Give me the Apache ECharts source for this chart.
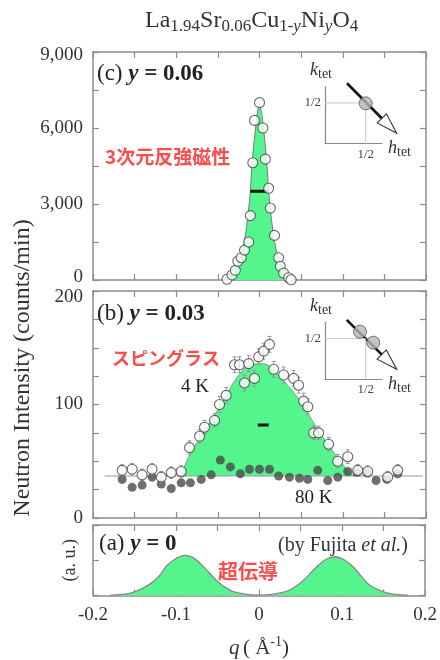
<!DOCTYPE html>
<html>
<head>
<meta charset="utf-8">
<script src="https://cdn.jsdelivr.net/npm/echarts@6.0.0/dist/echarts.min.js"></script>
<style>
  html, body { margin: 0; padding: 0; background: #fff; }
  #chart { width: 440px; height: 660px; }
</style>
</head>
<body>
<div id="chart"></div>
<script>
// panel (c) y = 0.06 : open circles and the green fit
var cQ      = [-0.039, -0.033, -0.029, -0.026, -0.022, -0.018, -0.013, -0.011, -0.008, -0.006, 0.000, 0.004, 0.007, 0.011, 0.013, 0.018, 0.023, 0.025, 0.029, 0.035, 0.038];
var cCounts = [30, 200, 380, 740, 880, 1180, 1500, 2540, 4630, 6300, 7000, 6000, 4770, 3620, 2840, 1760, 880, 540, 270, 90, 10];
var cFitQ   = [-0.045, -0.04, -0.035, -0.03, -0.025, -0.02, -0.017, -0.014, -0.011, -0.009, -0.006, -0.003, 0, 0.003, 0.006, 0.009, 0.011, 0.014, 0.017, 0.02, 0.025, 0.03, 0.035, 0.04, 0.045];
var cFitV   = [0, 120, 250, 420, 700, 1200, 1750, 2500, 3500, 4600, 5600, 6500, 6950, 6500, 5600, 4500, 3500, 2500, 1750, 1200, 700, 420, 230, 100, 0];
var cResQ   = [-0.011, 0.0105];
var cResV   = 3500;

// panel (b) y = 0.03 : 4 K (open), 80 K (filled)
var b4Q   = [-0.165, -0.153, -0.141, -0.129, -0.118, -0.106, -0.094, -0.084, -0.072, -0.066, -0.054, -0.048, -0.040, -0.030, -0.024, -0.018, -0.013, -0.006, -0.001, 0.005, 0.012, 0.017, 0.029, 0.041, 0.047, 0.053, 0.058, 0.065, 0.071, 0.083, 0.094, 0.106, 0.118, 0.130, 0.154, 0.166];
var b4V   = [42, 43, 38, 43, 36, 40, 41, 62, 72, 80, 86, 100, 108, 135, 135, 119, 136, 123, 142, 147, 153, 131, 126, 123, 117, 103, 98, 75, 75, 65, 50, 54, 42, 41, 36, 42];
var b4Err = [5, 5, 5, 5, 5, 5, 5, 6, 6, 6, 6, 7, 7, 7, 7, 7, 7, 7, 7, 7, 7, 7, 7, 7, 7, 7, 7, 6, 6, 6, 6, 6, 5, 5, 5, 5];
var b80Q  = [-0.165, -0.153, -0.141, -0.129, -0.118, -0.106, -0.094, -0.083, -0.070, -0.058, -0.047, -0.035, -0.023, -0.012, 0.000, 0.012, 0.023, 0.036, 0.048, 0.058, 0.070, 0.082, 0.094, 0.106, 0.117, 0.129, 0.140, 0.153, 0.166];
var b80V  = [34, 27, 29, 36, 30, 26, 31, 31, 34, 38, 51, 45, 39, 43, 43, 43, 37, 36, 35, 34, 42, 33, 36, 41, 40, 40, 33, 34, 39];
var bFitQ = [-0.095, -0.083, -0.063, -0.043, -0.027, -0.011, 0.005, 0.029, 0.05, 0.07, 0.09, 0.106, 0.113];
var bFitV = [37, 57, 80, 104, 124, 135, 136, 121, 102, 78, 57, 42, 37];
var bBase = 37;
var bBaseQ = [-0.186, 0.196];
var bResQ = [-0.002, 0.011];
var bResV = 82;

// panel (a) y = 0 (a. u.)
var aQ = [-0.18, -0.165, -0.15, -0.131, -0.12, -0.111, -0.1, -0.09, -0.08, -0.067, -0.051, -0.04, -0.031, -0.015, 0, 0.015, 0.031, 0.04, 0.052, 0.068, 0.08, 0.092, 0.102, 0.113, 0.123, 0.133, 0.15, 0.165, 0.18];
var aV = [0, 0.03, 0.1, 0.33, 0.56, 0.85, 1.05, 1.14, 1.08, 0.82, 0.42, 0.22, 0.11, 0.03, 0.01, 0.03, 0.1, 0.2, 0.4, 0.78, 1.02, 1.1, 1.02, 0.82, 0.55, 0.3, 0.1, 0.03, 0];

// reciprocal-space insets
var guide = [[0, 0.5], [0.5, 0.5], [0.5, 0]];
var arrowC = [[0.27, 0.742, 0.88, 0.128]];
var spotsC = [[0.5, 0.496]];
var arrowB = [[0.267, 0.73, 0.88, 0.123]];
var spotsB = [[0.43, 0.585], [0.593, 0.45]];

var serif = '"Liberation Serif", "DejaVu Serif", serif';
var cjk = '"Noto Sans CJK JP", sans-serif';
var green = '#55f58e';
var frame = '#8c8c8c';
var red = '#ff4b4b';

function pairs(xs, ys) {
    return xs.map(function (x, i) { return [x, Array.isArray(ys) ? ys[i] : ys]; });
}

var myChart = echarts.init(document.getElementById('chart'));

function qAxis(grid, pos, labels) {
    return {
        type: 'value', gridIndex: grid, position: pos, min: -0.2, max: 0.2, interval: 0.05,
        axisLine: { show: true, onZero: false, lineStyle: { color: frame, width: 1.5 } },
        axisTick: { show: true, inside: true, length: 6, lineStyle: { color: frame, width: 1.2 } },
        splitLine: { show: false },
        axisLabel: {
            show: labels, color: '#333', fontFamily: serif, fontSize: 19, margin: 10,
            showMinLabel: true, showMaxLabel: true, hideOverlap: false,
            formatter: function (v) {
                var k = Math.round(v * 100);
                if (k % 10 !== 0) return '';
                return k === 0 ? '0' : (k / 100).toFixed(1);
            }
        }
    };
}

// shiftMax / shiftMin nudge the end labels like in the figure
function valAxis(grid, pos, max, interval, labelEvery, fmt, shiftMax, shiftMin) {
    return {
        type: 'value', gridIndex: grid, position: pos, min: 0, max: max, interval: interval,
        axisLine: { show: true, onZero: false, lineStyle: { color: frame, width: 1.5 } },
        axisTick: { show: true, inside: true, length: 6, lineStyle: { color: frame, width: 1.2 } },
        splitLine: { show: false },
        axisLabel: {
            show: pos === 'left' && labelEvery > 0, color: '#333', fontFamily: serif, fontSize: 19, margin: 10,
            showMinLabel: true, showMaxLabel: true,
            rich: {
                mx: { fontFamily: serif, fontSize: 19, color: '#333', padding: [shiftMax || 0, 0, 0, 0] },
                mn: { fontFamily: serif, fontSize: 19, color: '#333', padding: [0, 0, shiftMin || 0, 0] }
            },
            formatter: function (v) {
                if (Math.round(v) % labelEvery !== 0) return '';
                var s = fmt ? fmt(v) : String(v);
                if (v === max) return '{mx|' + s + '}';
                if (v === 0) return '{mn|' + s + '}';
                return s;
            }
        }
    };
}

function insetAxis(grid, dim, name) {
    return {
        type: 'value', gridIndex: grid, min: 0, max: 0.7, interval: 0.5,
        position: dim === 'x' ? 'bottom' : 'left',
        name: name, nameLocation: 'end', nameGap: dim === 'x' ? 6 : 5,
        nameTextStyle: {
            fontFamily: serif, fontSize: 17, color: '#333',
            padding: dim === 'x' ? [10, 0, 0, 0] : [0, 8, 0, 0],
            rich: {
                i: { fontFamily: serif, fontSize: 18, fontStyle: 'italic', color: '#333' },
                s: { fontFamily: serif, fontSize: 14, color: '#333', padding: [8, 0, 0, 0] }
            }
        },
        axisLine: { show: true, onZero: false, lineStyle: { color: '#888', width: 1.2 } },
        axisTick: { show: false },
        splitLine: { show: false },
        axisLabel: {
            show: true, color: '#444', fontFamily: serif, fontSize: 13, margin: 4,
            formatter: function (v) { return v === 0.5 ? '1/2' : ''; }
        }
    };
}

function arrowItem(params, api) {
    var s = api.coord([api.value(0), api.value(1)]);
    var t = api.coord([api.value(2), api.value(3)]);
    var dx = t[0] - s[0], dy = t[1] - s[1];
    var len = Math.sqrt(dx * dx + dy * dy);
    var ux = dx / len, uy = dy / len;
    var hl = 21, hw = 6.5;
    var b = [t[0] - ux * hl, t[1] - uy * hl];
    return {
        type: 'group',
        children: [
            { type: 'line', shape: { x1: s[0], y1: s[1], x2: b[0] + ux * 3, y2: b[1] + uy * 3 }, style: { stroke: '#111', lineWidth: 2.6 } },
            { type: 'polygon', shape: { points: [t, [b[0] - uy * hw, b[1] + ux * hw], [b[0] + uy * hw, b[1] - ux * hw]] }, style: { fill: '#fff', stroke: '#333', lineWidth: 1.1 } }
        ]
    };
}

function errItem(params, api) {
    var x = api.value(0), y = api.value(1), e = api.value(2);
    var lo = api.coord([x, y - e]), hi = api.coord([x, y + e]);
    return {
        type: 'group',
        children: [
            { type: 'line', shape: { x1: lo[0], y1: lo[1], x2: hi[0], y2: hi[1] }, style: { stroke: '#9a9a9a', lineWidth: 1 } },
            { type: 'line', shape: { x1: hi[0] - 2, y1: hi[1], x2: hi[0] + 2, y2: hi[1] }, style: { stroke: '#9a9a9a', lineWidth: 1 } },
            { type: 'line', shape: { x1: lo[0] - 2, y1: lo[1], x2: lo[0] + 2, y2: lo[1] }, style: { stroke: '#9a9a9a', lineWidth: 1 } }
        ]
    };
}

function comma(v) { return v.toLocaleString('en-US'); }

var openDot = { color: '#fff', borderColor: '#444', borderWidth: 1.1 };

var option = {
    animation: false,
    backgroundColor: '#fff',
    title: {
        text: '{m|La}{s|1.94}{m|Sr}{s|0.06}{m|Cu}{s|1-}{si|y}{m|Ni}{si|y}{m|O}{s|4}',
        left: 140, top: 2,
        textStyle: {
            fontWeight: 'normal',
            rich: {
                m: { fontFamily: serif, fontSize: 24, fontWeight: 'normal', color: '#333', lineHeight: 28, verticalAlign: 'middle' },
                s: { fontFamily: serif, fontSize: 17, fontWeight: 'normal', color: '#333', lineHeight: 12, verticalAlign: 'bottom' },
                si: { fontFamily: serif, fontSize: 17, fontWeight: 'normal', fontStyle: 'italic', color: '#333', lineHeight: 12, verticalAlign: 'bottom' }
            }
        }
    },
    grid: [
        { left: 93, right: 14, top: 52, height: 228 },
        { left: 93, right: 14, top: 291, height: 227 },
        { left: 93, right: 14, top: 525, height: 76 },
        { left: 325, top: 86.7, width: 57, height: 57 },
        { left: 325, top: 322.3, width: 57, height: 57 }
    ],
    xAxis: [
        qAxis(0, 'bottom', false), qAxis(0, 'top', false),
        qAxis(1, 'bottom', false), qAxis(1, 'top', false),
        Object.assign(qAxis(2, 'bottom', true), {
            name: '{i|q} {n|( Å}{u|-1}{n|)}', nameLocation: 'middle', nameGap: 40,
            nameTextStyle: {
                rich: {
                    i: { fontFamily: serif, fontSize: 21, fontStyle: 'italic', color: '#333' },
                    n: { fontFamily: serif, fontSize: 21, color: '#333' },
                    u: { fontFamily: serif, fontSize: 14, color: '#333', padding: [0, 0, 12, 0] }
                }
            }
        }),
        qAxis(2, 'top', false),
        insetAxis(3, 'x', '{i|h}{s|tet}'),
        insetAxis(4, 'x', '{i|h}{s|tet}')
    ],
    yAxis: [
        valAxis(0, 'left', 9000, 1500, 3000, comma, 6, 6), valAxis(0, 'right', 9000, 1500, 0),
        valAxis(1, 'left', 200, 25, 100, null, 12, 0), valAxis(1, 'right', 200, 25, 0),
        Object.assign(valAxis(2, 'left', 2, 1, 0), {
            name: '(a. u.)', nameLocation: 'middle', nameGap: 14, nameRotate: 90,
            nameTextStyle: { fontFamily: serif, fontSize: 18, color: '#333' }
        }),
        valAxis(2, 'right', 2, 1, 0),
        insetAxis(3, 'y', '{i|k}{s|tet}'),
        insetAxis(4, 'y', '{i|k}{s|tet}')
    ],
    graphic: [
        { type: 'text', x: 23, y: 368, rotation: Math.PI / 2,
          style: { text: 'Neutron Intensity (counts/min)', font: '24px ' + serif, fill: '#333', align: 'center', verticalAlign: 'middle' } },
        { type: 'text', x: 97, y: 74,
          style: { text: '{n|(c) }{y|y}{b| = 0.06}', verticalAlign: 'middle', rich: {
              n: { fontFamily: serif, fontSize: 23, fill: '#222' },
              y: { fontFamily: serif, fontSize: 23, fontStyle: 'italic', fontWeight: 'bold', fill: '#222' },
              b: { fontFamily: serif, fontSize: 23, fontWeight: 'bold', fill: '#222' } } } },
        { type: 'text', x: 97, y: 314,
          style: { text: '{n|(b) }{y|y}{b| = 0.03}', verticalAlign: 'middle', rich: {
              n: { fontFamily: serif, fontSize: 23, fill: '#222' },
              y: { fontFamily: serif, fontSize: 23, fontStyle: 'italic', fontWeight: 'bold', fill: '#222' },
              b: { fontFamily: serif, fontSize: 23, fontWeight: 'bold', fill: '#222' } } } },
        { type: 'text', x: 99, y: 544,
          style: { text: '{n|(a) }{y|y}{b| = 0}', verticalAlign: 'middle', rich: {
              n: { fontFamily: serif, fontSize: 23, fill: '#222' },
              y: { fontFamily: serif, fontSize: 23, fontStyle: 'italic', fontWeight: 'bold', fill: '#222' },
              b: { fontFamily: serif, fontSize: 23, fontWeight: 'bold', fill: '#222' } } } },
        { type: 'text', x: 408, y: 546,
          style: { text: '{n|(by Fujita }{i|et al.}{n|)}', align: 'right', verticalAlign: 'middle', rich: {
              n: { fontFamily: serif, fontSize: 20, fill: '#333' },
              i: { fontFamily: serif, fontSize: 20, fontStyle: 'italic', fill: '#333' } } } },
        { type: 'text', x: 105, y: 157,
          style: { text: '3次元反強磁性', font: 'bold 19px ' + cjk, fill: red, verticalAlign: 'middle' } },
        { type: 'text', x: 112, y: 358,
          style: { text: 'スピングラス', font: 'bold 18px ' + cjk, fill: red, verticalAlign: 'middle' } },
        { type: 'text', x: 218, y: 571,
          style: { text: '超伝導', font: 'bold 20px ' + cjk, fill: red, verticalAlign: 'middle' } },
        { type: 'text', x: 181, y: 387,
          style: { text: '4 K', font: '19px ' + serif, fill: '#222', verticalAlign: 'middle' } },
        { type: 'text', x: 295, y: 498,
          style: { text: '80 K', font: '19px ' + serif, fill: '#222', verticalAlign: 'middle' } }
    ],
    series: [
        // (c)
        { type: 'line', xAxisIndex: 0, yAxisIndex: 0, data: pairs(cFitQ, cFitV), symbol: 'none', smooth: 0.2,
          lineStyle: { color: '#777', width: 1 }, areaStyle: { color: green, opacity: 1, origin: 'start' }, silent: true },
        { type: 'line', xAxisIndex: 0, yAxisIndex: 0, data: pairs(cResQ, cResV), symbol: 'none',
          lineStyle: { color: '#111', width: 3 }, silent: true, z: 4 },
        { type: 'scatter', xAxisIndex: 0, yAxisIndex: 0, data: pairs(cQ, cCounts), symbol: 'circle', symbolSize: 10,
          itemStyle: openDot, silent: true, z: 5 },
        // (b)
        { type: 'line', xAxisIndex: 2, yAxisIndex: 2, data: pairs(bFitQ, bFitV), symbol: 'none', smooth: 0.3,
          lineStyle: { color: '#888', width: 0.8 }, areaStyle: { color: green, opacity: 1, origin: bBase }, silent: true },
        { type: 'line', xAxisIndex: 2, yAxisIndex: 2, data: pairs(bBaseQ, bBase), symbol: 'none',
          lineStyle: { color: '#999', width: 1.2 }, silent: true },
        { type: 'scatter', xAxisIndex: 2, yAxisIndex: 2, data: pairs(b80Q, b80V), symbol: 'circle', symbolSize: 9,
          itemStyle: { color: '#4a4a4a' }, silent: true, z: 3 },
        { type: 'custom', xAxisIndex: 2, yAxisIndex: 2, renderItem: errItem, silent: true, z: 4,
          data: b4Q.map(function (q, i) { return [q, b4V[i], b4Err[i]]; }) },
        { type: 'scatter', xAxisIndex: 2, yAxisIndex: 2, data: pairs(b4Q, b4V), symbol: 'circle', symbolSize: 10,
          itemStyle: openDot, silent: true, z: 5 },
        { type: 'line', xAxisIndex: 2, yAxisIndex: 2, data: pairs(bResQ, bResV), symbol: 'none',
          lineStyle: { color: '#111', width: 3 }, silent: true, z: 4 },
        // (a)
        { type: 'line', xAxisIndex: 4, yAxisIndex: 4, data: pairs(aQ, aV), symbol: 'none', smooth: 0.4,
          lineStyle: { color: '#888', width: 1.3 }, areaStyle: { color: green, opacity: 1, origin: 'start' }, silent: true },
        // insets
        { type: 'line', xAxisIndex: 6, yAxisIndex: 6, data: guide, symbol: 'none',
          lineStyle: { color: '#c8c8c8', width: 1 }, silent: true },
        { type: 'custom', xAxisIndex: 6, yAxisIndex: 6, renderItem: arrowItem, data: arrowC, clip: false, silent: true, z: 3 },
        { type: 'scatter', xAxisIndex: 6, yAxisIndex: 6, data: spotsC, symbolSize: 13,
          itemStyle: { color: '#b5b5b5', borderColor: '#555', borderWidth: 1 }, silent: true, z: 5 },
        { type: 'line', xAxisIndex: 7, yAxisIndex: 7, data: guide, symbol: 'none',
          lineStyle: { color: '#c8c8c8', width: 1 }, silent: true },
        { type: 'custom', xAxisIndex: 7, yAxisIndex: 7, renderItem: arrowItem, data: arrowB, clip: false, silent: true, z: 3 },
        { type: 'scatter', xAxisIndex: 7, yAxisIndex: 7, data: spotsB, symbolSize: 13,
          itemStyle: { color: '#b5b5b5', borderColor: '#555', borderWidth: 1 }, silent: true, z: 5 }
    ]
};

myChart.setOption(option);
</script>
</body>
</html>
